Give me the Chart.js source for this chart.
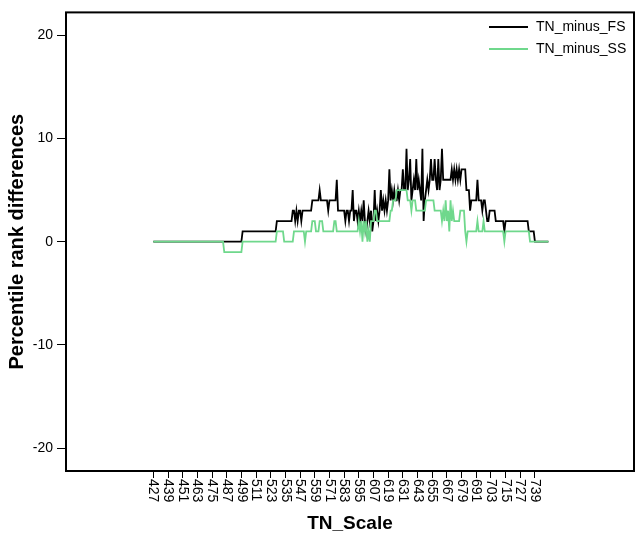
<!DOCTYPE html>
<html>
<head>
<meta charset="utf-8">
<script src="https://cdn.jsdelivr.net/npm/chart.js@4/dist/chart.umd.min.js"></script>
<style>
  body { margin: 0; background: #fff; }
  canvas { display: block; }
</style>
</head>
<body>
<canvas id="rankChart" width="636" height="536"></canvas>
<script>
// tick labels on the x axis (every 12th score)
const xTickLabels = [427, 439, 451, 463, 475, 487, 499, 511, 523, 535, 547, 559, 571,
  583, 595, 607, 619, 631, 643, 655, 667, 679, 691, 703, 715, 727, 739];
const yTickLabels = [-20, -10, 0, 10, 20];

// one value per TN score, rows start at each tick label
const tnMinusFs = [
  0,0,0,0,0,0,0,0,0,0,0,0,
  0,0,0,0,0,0,0,0,0,0,0,0,
  0,0,0,0,0,0,0,0,0,0,0,0,
  0,0,0,0,0,0,0,0,0,0,0,0,
  0,0,0,0,0,0,0,0,0,0,0,0,
  0,0,0,0,0,0,0,0,0,0,0,0,
  0,1,1,1,1,1,1,1,1,1,1,1,
  1,1,1,1,1,1,1,1,1,1,1,1,
  1,1,1,1,1,2,2,2,2,2,2,2,
  2,2,2,2,2,2,3,3,2,3,2,3,
  3,2,3,3,3,3,3,3,3,3,4,4,
  4,4,4,4,5,4,4,4,4,4,4,3,
  4,4,4,4,4,4,6,3,3,3,3,3,
  3,2,3,3,2,3,3,5,2,3,3,2,
  3,2,3,2,4,2,1,2,3,2,3,1,
  2,5,2,3,2,3,5,3,4,3,4,3,
  4,7,4,5,4,5,4,4,5,4,5,5,
  7,5,5,9,5,6,8,4,5,6,5,8,
  5,6,5,4,9,2,4,5,6,5,6,8,
  6,6,8,6,5,8,5,6,9,6,6,6,
  6,6,6,6,7,6,7,6,7,6,7,6,
  7,7,7,7,5,5,5,3,4,4,4,4,
  4,6,4,4,4,3,4,4,3,2,2,3,
  3,3,3,3,2,2,2,2,2,2,2,1,
  2,2,2,2,2,2,2,2,2,2,2,2,
  2,2,2,2,2,2,2,1,1,1,1,1,
  0,0,0,0,0,0,0,0,0,0,0,0
];

const tnMinusSs = [
  0,0,0,0,0,0,0,0,0,0,0,0,
  0,0,0,0,0,0,0,0,0,0,0,0,
  0,0,0,0,0,0,0,0,0,0,0,0,
  0,0,0,0,0,0,0,0,0,0,0,0,
  0,0,0,0,0,0,0,0,0,0,-1,-1,
  -1,-1,-1,-1,-1,-1,-1,-1,-1,-1,-1,-1,
  -1,0,0,0,0,0,0,0,0,0,0,0,
  0,0,0,0,0,0,0,0,0,0,0,0,
  0,0,0,0,0,1,1,1,1,1,1,0,
  0,0,0,0,0,0,0,1,1,1,1,1,
  1,1,1,1,0,1,1,1,1,1,2,2,
  2,1,1,1,2,2,2,1,1,1,1,1,
  1,1,1,1,2,2,1,1,1,1,1,1,
  1,1,1,1,1,1,1,1,1,1,1,1,
  2,1,2,0,2,1,2,0,1,0,2,2,
  2,3,3,2,2,2,2,2,2,2,2,2,
  2,2,3,3,4,4,4,5,5,5,5,5,
  5,5,5,5,4,4,4,3,4,4,4,3,
  3,3,3,3,3,3,3,4,4,4,4,4,
  4,4,3,3,3,3,3,3,2,3,2,4,
  2,3,1,4,2,3,2,2,2,2,2,3,
  3,3,3,1,0,1,1,1,1,1,1,1,
  1,2,1,1,1,1,2,1,1,1,1,1,
  1,1,1,1,1,1,1,1,1,1,1,0,
  1,1,1,1,1,1,1,1,1,1,1,1,
  1,1,1,1,1,1,1,1,0,0,0,0,
  0,0,0,0,0,0,0,0,0,0,0,0
];

const scores = tnMinusFs.map((_, i) => xTickLabels[0] + i);
const seriesNames = ['TN_minus_FS', 'TN_minus_SS'];
const seriesColors = ['#000000', '#6fd88c'];

const fontFamily = '"Liberation Sans", Arial, sans-serif';
Chart.defaults.font.family = fontFamily;
Chart.defaults.color = '#000';

// frame round the plot + rotated x labels + legend
const extras = {
  id: 'extras',
  afterDraw(chart) {
    const ctx = chart.ctx;
    const area = chart.chartArea;
    const xScale = chart.scales.x;
    ctx.save();
    ctx.strokeStyle = '#000';
    ctx.lineWidth = 2;
    ctx.strokeRect(area.left, area.top, area.right - area.left, area.bottom - area.top);

    //x tick labels, read top to bottom
    ctx.fillStyle = '#000';
    ctx.font = '14px ' + fontFamily;
    ctx.textAlign = 'left';
    ctx.textBaseline = 'middle';
    xTickLabels.forEach(v => {
      ctx.save();
      ctx.translate(xScale.getPixelForValue(v), area.bottom + 8);
      ctx.rotate(Math.PI / 2);
      ctx.fillText(String(v), 0, 0);
      ctx.restore();
    });

    //legend
    ctx.font = '14px ' + fontFamily;
    seriesNames.forEach((name, i) => {
      const y = 27 + i * 22;
      ctx.strokeStyle = seriesColors[i];
      ctx.lineWidth = 2;
      ctx.beginPath();
      ctx.moveTo(489, y);
      ctx.lineTo(528, y);
      ctx.stroke();
      ctx.fillText(name, 536, y);
    });
    ctx.restore();
  }
};

const ctx = document.getElementById('rankChart').getContext('2d');
const rankChart = new Chart(ctx, {
  type: 'line',
  data: {
    datasets: [
      {
        label: seriesNames[0],
        data: scores.map((s, i) => ({ x: s, y: tnMinusFs[i] })),
        borderColor: seriesColors[0],
        borderWidth: 1.8,
        pointRadius: 0,
        tension: 0,
        order: 1
      },
      {
        label: seriesNames[1],
        data: scores.map((s, i) => ({ x: s, y: tnMinusSs[i] })),
        borderColor: seriesColors[1],
        borderWidth: 1.8,
        pointRadius: 0,
        tension: 0,
        order: 0
      }
    ]
  },
  options: {
    responsive: false,
    animation: false,
    layout: { padding: { left: 0, right: 2, top: 8, bottom: 0 } },
    plugins: {
      legend: { display: false },
      tooltip: { enabled: false }
    },
    scales: {
      x: {
        type: 'linear',
        min: 355.6,
        max: 820,
        afterBuildTicks: scale => { scale.ticks = xTickLabels.map(v => ({ value: v })); },
        afterFit: scale => { scale.height = 65; },
        ticks: { display: false },
        grid: { drawOnChartArea: false, drawTicks: true, tickLength: 7, color: '#000', lineWidth: 1 },
        border: { display: false },
        title: {
          display: true,
          text: 'TN_Scale',
          color: '#000',
          font: { size: 19, weight: 'bold' },
          padding: { top: 0, bottom: 1 }
        }
      },
      y: {
        min: -22.2,
        max: 22.2,
        afterBuildTicks: scale => { scale.ticks = yTickLabels.map(v => ({ value: v })); },
        afterFit: scale => { scale.width = 66; },
        ticks: { color: '#000', font: { size: 14 }, padding: 4 },
        grid: { drawOnChartArea: false, drawTicks: true, tickLength: 9, color: '#000', lineWidth: 1 },
        border: { display: false },
        title: {
          display: true,
          text: 'Percentile rank differences',
          color: '#000',
          font: { size: 20, weight: 'bold' },
          padding: { top: 5, bottom: 0 }
        }
      }
    }
  },
  plugins: [extras]
});
</script>
</body>
</html>
